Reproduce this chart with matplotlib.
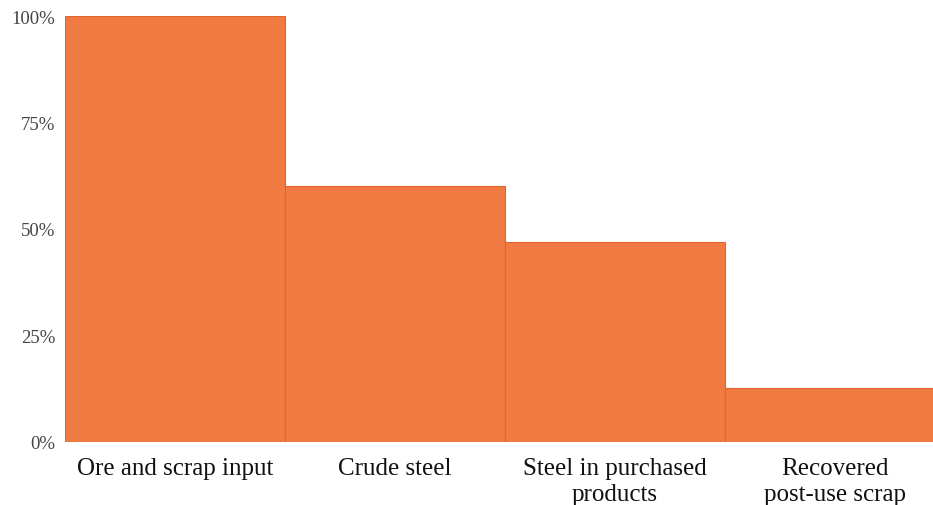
import matplotlib.pyplot as plt
from matplotlib.ticker import PercentFormatter

categories = ["Ore and scrap input", "Crude steel",
              "Steel in purchased\nproducts", "Recovered\npost-use scrap"]
shares = [1.00, 0.60, 0.47, 0.127]
yticks = [0, 0.25, 0.5, 0.75, 1.0]

plt.rcParams['font.family'] = ['Liberation Serif', 'DejaVu Serif']

fig = plt.figure(figsize=(9.33, 5.06), dpi=100)
ax = fig.add_axes([65 / 933, 63 / 506, 868 / 933, 426 / 506])

x = range(len(categories))
ax.bar(x, shares, width=1.0, color='#EF7B43', edgecolor='#E2642E', linewidth=0.8)

ax.set_xlim(-0.5, 3.445)
ax.set_ylim(0, 1.0)
ax.set_yticks(yticks)
ax.yaxis.set_major_formatter(PercentFormatter(1.0, decimals=0))
ax.set_xticks(list(x))
ax.set_xticklabels(categories, fontsize=18, color='#111111', linespacing=1.2)

ax.tick_params(axis='y', length=0, pad=7, labelsize=13.5, labelcolor='#444444')
ax.tick_params(axis='x', length=0, pad=11)
for side in ax.spines.values():
    side.set_visible(False)

fig.savefig('out.png', dpi=100)
